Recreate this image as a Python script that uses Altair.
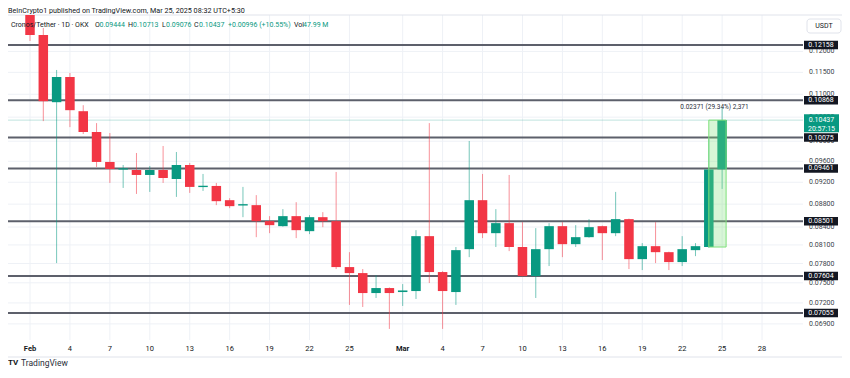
import altair as alt
import pandas as pd

# ---------------- data ----------------
dates = [f"Feb {d}" for d in range(1, 29)] + [f"Mar {d}" for d in range(1, 26)]

opens = [0.13054, 0.12407, 0.10824, 0.11393, 0.10628, 0.10188, 0.09587, 0.09440, 0.09432, 0.09337,
         0.09432, 0.09261, 0.09528, 0.09110, 0.09131, 0.08871, 0.08775, 0.08782, 0.08501, 0.08415,
         0.08588, 0.08330, 0.08570, 0.08501, 0.07744, 0.07650, 0.07346, 0.07421, 0.07361, 0.07376,
         0.08246, 0.07666, 0.07361, 0.08031, 0.08871, 0.08296, 0.08467, 0.08066, 0.07604, 0.08031,
         0.08415, 0.08113, 0.08229, 0.08415, 0.08296, 0.08536, 0.07870, 0.08080, 0.07982, 0.07823,
         0.08015, 0.08066, 0.09444]
highs = [0.13187, 0.12585, 0.11556, 0.11486, 0.10758, 0.10374, 0.10167, 0.09528, 0.09763, 0.09509,
         0.09903, 0.09783, 0.09567, 0.09356, 0.09187, 0.08907, 0.09113, 0.08962, 0.08588, 0.08711,
         0.08835, 0.08605, 0.08658, 0.09394, 0.07982, 0.07713, 0.07619, 0.07430, 0.07481, 0.08347,
         0.10374, 0.07680, 0.08066, 0.10004, 0.09356, 0.08711, 0.09337, 0.08484, 0.08381, 0.08467,
         0.08484, 0.08432, 0.08536, 0.08425, 0.09021, 0.08545, 0.08130, 0.08484, 0.07990, 0.08246,
         0.08130, 0.10044, 0.10713]
lows = [0.12257, 0.10416, 0.07807, 0.10290, 0.10147, 0.09490, 0.09187, 0.09094, 0.08984, 0.09021,
        0.09187, 0.08930, 0.09003, 0.09039, 0.08782, 0.08728, 0.08570, 0.08229, 0.08296, 0.08405,
        0.08213, 0.08280, 0.08398, 0.07713, 0.07171, 0.07141, 0.07273, 0.06830, 0.07156, 0.07258,
        0.07497, 0.06830, 0.07171, 0.07902, 0.08213, 0.08066, 0.07999, 0.07600, 0.07273, 0.07760,
        0.07902, 0.08066, 0.08220, 0.07855, 0.08246, 0.07713, 0.07697, 0.07807, 0.07697, 0.07760,
        0.07918, 0.08050, 0.09076]
closes = [0.12407, 0.10846, 0.11393, 0.10650, 0.10188, 0.09587, 0.09451, 0.09465, 0.09337, 0.09432,
          0.09280, 0.09528, 0.09113, 0.09135, 0.08853, 0.08764, 0.08800, 0.08501, 0.08432, 0.08588,
          0.08347, 0.08570, 0.08501, 0.07744, 0.07650, 0.07346, 0.07421, 0.07346, 0.07385, 0.08246,
          0.07666, 0.07376, 0.08015, 0.08871, 0.08296, 0.08467, 0.08066, 0.07604, 0.08031, 0.08415,
          0.08113, 0.08229, 0.08398, 0.08296, 0.08536, 0.07870, 0.08080, 0.07982, 0.07823, 0.08031,
          0.08080, 0.09441, 0.10437]

level_prices = [0.12158, 0.10868, 0.10075, 0.09461, 0.08501, 0.07604, 0.07055]

y_tick_values = [0.069, 0.072, 0.075, 0.078, 0.081, 0.084, 0.088, 0.092, 0.096, 0.100,
                 0.105, 0.110, 0.115, 0.120]
x_tick_days = [0, 3, 6, 9, 12, 15, 18, 21, 24, 28, 31, 34, 37, 40, 43, 46, 49, 52, 55]
x_tick_labels = ["Feb", "4", "7", "10", "13", "16", "19", "22", "25",
                 "Mar", "4", "7", "10", "13", "16", "19", "22", "25", "28"]
month_labels = ["Feb", "Mar"]

last_price = 0.10437
countdown = "20:57:15"
measure_low, measure_high = 0.08066, 0.10437
measure_days = [51.0, 52.3]
measure_text = "0.02371 (29.34%) 2,371"
change_text = "+0.00996 (+10.55%)"
volume_text = "47.99 M"

header = "BeInCrypto1 published on TradingView.com, Mar 25, 2025 08:32 UTC+5:30"
symbol = "Cronos/Tether · 1D · OKX"

# ---------------- styling ----------------
FONT = "Roboto"
INK = "#131722"
UP = "#089981"
DOWN = "#f23645"
GRID = "#eef1f6"
W, H = 795, 325

df = pd.DataFrame({"date": dates, "day": list(range(len(dates))),
                   "open": opens, "high": highs, "low": lows, "close": closes})

x_scale = alt.Scale(domain=[-1.653, 58.077], nice=False, zero=False, padding=0)
y_scale = alt.Scale(type="log", domain=[0.06678, 0.12921], nice=False, zero=False, padding=0)

xq = lambda f: alt.X(f, scale=x_scale, axis=None)
yq = lambda f: alt.Y(f, scale=y_scale, axis=None)

# ---- manual grid + axis labels ----
xt = pd.DataFrame({"day": x_tick_days, "label": x_tick_labels})
yt = pd.DataFrame({"price": y_tick_values})

x_grid = alt.Chart(xt).mark_rule(color=GRID, strokeWidth=1).encode(
    x=xq("day:Q"), y=alt.value(0), y2=alt.value(H))
y_grid = alt.Chart(yt).mark_rule(color=GRID, strokeWidth=1).encode(
    y=yq("price:Q"), x=alt.value(0), x2=alt.value(W))

is_month = "indexof(" + str(month_labels).replace('"', "'") + ", datum.label) >= 0"
x_labels_norm = alt.Chart(xt).transform_filter("!(" + is_month + ")").mark_text(
    font=FONT, fontSize=7.5, color=INK, baseline="middle", align="center").encode(
    x=xq("day:Q"), y=alt.value(H + 9), text="label:N")
x_labels_bold = alt.Chart(xt).transform_filter(is_month).mark_text(
    font=FONT, fontSize=7.5, color=INK, baseline="middle", align="center",
    fontWeight="bold").encode(
    x=xq("day:Q"), y=alt.value(H + 9), text="label:N")
y_labels = alt.Chart(yt).mark_text(font=FONT, fontSize=7, color="#3b3f4a", align="left",
                                   baseline="middle").encode(
    y=yq("price:Q"), x=alt.value(801), text=alt.Text("price:Q", format=".5f"))

# ---- candles ----
base = alt.Chart(df)
color_cond = alt.condition("datum.close >= datum.open", alt.value(UP), alt.value(DOWN))

wicks = base.mark_rule(strokeWidth=1, opacity=0.55, clip=True).encode(
    x=xq("day:Q"), y=yq("low:Q"), y2="high:Q", color=color_cond)
bodies = base.mark_bar(size=9.5, clip=True).encode(
    x=xq("day:Q"), y=yq("open:Q"), y2="close:Q", color=color_cond)

# ---- horizontal levels ----
lv = pd.DataFrame({"price": level_prices})
level_lines = alt.Chart(lv).mark_rule(color="#5d606b", strokeWidth=2).encode(
    y=yq("price:Q"), x=alt.value(0), x2=alt.value(W))
level_boxes = alt.Chart(lv).mark_rule(color=INK, strokeWidth=8.5, strokeCap="butt").encode(
    y=yq("price:Q"), x=alt.value(796), x2=alt.value(830))
level_text = alt.Chart(lv).mark_text(color="white", font=FONT, fontSize=7, align="center",
                                     baseline="middle").encode(
    y=yq("price:Q"), x=alt.value(813), text=alt.Text("price:Q", format=".5f"))

# ---- last price ----
lp = pd.DataFrame({"price": [last_price], "cd": [countdown]})
price_line = alt.Chart(lp).mark_rule(color=UP, opacity=0.25, strokeWidth=1).encode(
    y=yq("price:Q"), x=alt.value(0), x2=alt.value(W))
price_box = alt.Chart(lp).mark_rule(color=UP, strokeWidth=18, strokeCap="butt", yOffset=3).encode(
    y=yq("price:Q"), x=alt.value(796), x2=alt.value(831))
price_text = alt.Chart(lp).mark_text(color="white", font=FONT, fontSize=7, align="center",
                                     baseline="middle").encode(
    y=yq("price:Q"), x=alt.value(813.5), text=alt.Text("price:Q", format=".5f"))
price_cd = alt.Chart(lp).mark_text(color="white", font=FONT, fontSize=7, align="center",
                                   baseline="middle", dy=8.5).encode(
    y=yq("price:Q"), x=alt.value(813.5), text="cd:N")

# ---- measure tool ----
ms = pd.DataFrame({"d0": [measure_days[0]], "d1": [measure_days[1]],
                   "lo": [measure_low], "hi": [measure_high],
                   "mid": [(measure_days[0] + measure_days[1]) / 2], "t": [measure_text]})
measure_rect = alt.Chart(ms).mark_rect(fill="#7ee07a", fillOpacity=0.3, stroke="#7ee07a",
                                       strokeWidth=1).encode(
    x=xq("d0:Q"), x2="d1:Q", y=yq("lo:Q"), y2="hi:Q")
measure_label = alt.Chart(ms).mark_text(font=FONT, fontSize=6.5, color="#2a2e39",
                                        baseline="middle", align="center", dy=-13, dx=-3).encode(
    x=xq("mid:Q"), y=yq("hi:Q"), text="t:N")


def txt(s, x, y, size=7, color=INK, weight="normal", align="left", baseline="middle"):
    return alt.Chart(pd.DataFrame({"t": [s]})).mark_text(
        font=FONT, fontSize=size, color=color, fontWeight=weight, align=align,
        baseline=baseline).encode(x=alt.value(x), y=alt.value(y), text="t:N")


texts = [
    txt(header, 0, -2, size=7.2, baseline="alphabetic"),
    txt(symbol, 3, 10),
    txt("O", 87, 10), txt(f"{opens[-1]:.5f}", 91.5, 10, color=UP),
    txt("H", 120, 10), txt(f"{highs[-1]:.5f}", 125, 10, color=UP),
    txt("L", 154, 10), txt(f"{lows[-1]:.5f}", 158, 10, color=UP),
    txt("C", 186, 10), txt(f"{closes[-1]:.5f}", 191, 10, color=UP),
    txt(change_text, 220, 10, color=UP),
    txt("Vol", 286, 10), txt(volume_text, 295, 10, color=UP),
    txt("TV", 0, 347.5, size=8, weight="bold"),
    txt("TradingView", 13, 347.5, size=8.5, color="#2a2e39"),
]

one = pd.DataFrame({"t": ["USDT"]})
usdt_box = alt.Chart(one).mark_rect(fill="white", stroke="#e0e3eb", strokeWidth=1,
                                    cornerRadius=3).encode(
    x=alt.value(799), x2=alt.value(833), y=alt.value(4), y2=alt.value(18))
usdt_text = txt("USDT", 816, 11, size=7, align="center")

border_top = alt.Chart(one).mark_rule(color="#e0e3eb", strokeWidth=1).encode(
    x=alt.value(0), x2=alt.value(834), y=alt.value(0))
border_bottom = alt.Chart(one).mark_rule(color="#e0e3eb", strokeWidth=1).encode(
    x=alt.value(0), x2=alt.value(834), y=alt.value(342))

chart = alt.layer(
    x_grid, y_grid, border_top, border_bottom, price_line, level_lines, wicks, bodies,
    measure_rect, measure_label, y_labels, x_labels_norm, x_labels_bold,
    level_boxes, level_text, price_box, price_text, price_cd,
    usdt_box, usdt_text, *texts,
).properties(
    width=W, height=H,
    padding={"left": 0, "top": 7, "right": 39, "bottom": 28},
    autosize=alt.AutoSizeParams(type="none"),
    background="white",
).configure_view(stroke=None)

chart.save("out.html", embed_options={"renderer": "svg", "actions": False})
